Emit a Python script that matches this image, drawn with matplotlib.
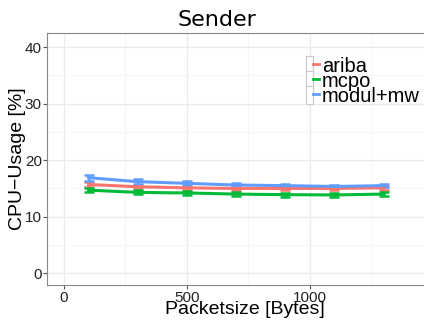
import matplotlib
matplotlib.use("Agg")
import matplotlib.pyplot as plt
from matplotlib.lines import Line2D
from matplotlib.patches import Rectangle
from matplotlib.legend_handler import HandlerTuple
from matplotlib.ticker import FixedLocator, MultipleLocator

packetsize = [100, 300, 500, 700, 900, 1100, 1300]
series_names = ["ariba", "mcpo", "modul+mw"]
ariba = [15.7, 15.3, 15.1, 15.0, 15.0, 15.0, 15.1]
mcpo = [14.7, 14.3, 14.2, 14.0, 13.9, 13.85, 14.0]
modul_mw = [16.9, 16.2, 15.9, 15.6, 15.5, 15.35, 15.5]
ariba_err = [0.4, 0.3, 0.3, 0.3, 0.3, 0.3, 0.3]
mcpo_err = [0.4, 0.35, 0.35, 0.35, 0.35, 0.35, 0.3]
modul_mw_err = [0.5, 0.4, 0.35, 0.3, 0.3, 0.3, 0.3]
x_ticks = [0, 500, 1000]
y_ticks = [0, 10, 20, 30, 40]

colors = ["#F8766D", "#00BA38", "#619CFF"]

plt.rcParams["font.family"] = ["Liberation Sans", "DejaVu Sans"]

fig = plt.figure(figsize=(4.24, 3.2), dpi=100)
# panel runs past the right edge of the picture, as in the reference
ax = fig.add_axes([0.112, 0.109, 0.93, 0.788])

for name, vals, errs, c in zip(series_names, [ariba, mcpo, modul_mw],
                               [ariba_err, mcpo_err, modul_mw_err], colors):
    ax.errorbar(packetsize, vals, yerr=errs, color=c, lw=2.2, capsize=3.5,
                capthick=1.8, elinewidth=1.8)

ax.set_xlim(-67, 1537)
ax.set_ylim(-2.1, 42.5)
ax.xaxis.set_major_locator(FixedLocator(x_ticks))
ax.xaxis.set_minor_locator(FixedLocator([250, 750, 1250]))
ax.yaxis.set_major_locator(FixedLocator(y_ticks))
ax.yaxis.set_minor_locator(MultipleLocator(5))
ax.grid(which="major", color="#EBEBEB", lw=1.0)
ax.grid(which="minor", color="#F4F4F4", lw=0.6)
ax.set_axisbelow(True)
ax.tick_params(which="minor", length=0)
ax.tick_params(which="major", length=3, color="#555555", labelsize=11,
               labelcolor="#222222", pad=1)
for s in ax.spines.values():
    s.set_color("#888888")
    s.set_linewidth(0.8)

ax.set_xlabel("Packetsize [Bytes]", fontsize=14, labelpad=-3)
ax.set_ylabel("CPU\u2212Usage [%]", fontsize=14, labelpad=-1)
ax.set_title("Sender", fontsize=16, family="DejaVu Sans", pad=5,
             x=(217 - 47.5) / (0.93 * 424))

handles = [(Rectangle((0, 0), 1, 1, facecolor="white", edgecolor="#C8C8C8", lw=0.8),
            Line2D([], [], color=c, lw=2)) for c in colors]
ax.legend(handles, series_names, loc="upper left", bbox_to_anchor=(0.625, 0.955),
          frameon=False, fontsize=14.5, handlelength=0.65, handleheight=1.0,
          handletextpad=0.15, labelspacing=-0.25, borderpad=0.1,
          handler_map={tuple: HandlerTuple(ndivide=None, pad=0)})

fig.savefig("out.png", dpi=100)
